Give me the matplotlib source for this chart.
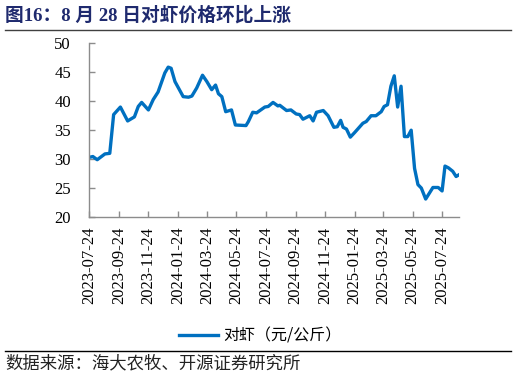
import matplotlib
matplotlib.use("Agg")
import matplotlib.pyplot as plt
import matplotlib.dates as mdates
from matplotlib.lines import Line2D
import pandas as pd

# data
dates = [
    "2023-07-24", "2023-08-01", "2023-08-10", "2023-08-26", "2023-09-05",
    "2023-09-13", "2023-09-27", "2023-10-12", "2023-10-26", "2023-11-03",
    "2023-11-10", "2023-11-24", "2023-12-04", "2023-12-14", "2023-12-28",
    "2024-01-04", "2024-01-10", "2024-01-18", "2024-02-04", "2024-02-15",
    "2024-02-22", "2024-03-03", "2024-03-15", "2024-03-24", "2024-04-03",
    "2024-04-11", "2024-04-17", "2024-04-24", "2024-05-02", "2024-05-14",
    "2024-05-22", "2024-06-13", "2024-06-18", "2024-06-27", "2024-07-05",
    "2024-07-22", "2024-07-29", "2024-08-08", "2024-08-18", "2024-08-22",
    "2024-09-05", "2024-09-14", "2024-09-25", "2024-10-02", "2024-10-09",
    "2024-10-23", "2024-10-30", "2024-11-06", "2024-11-20", "2024-11-30",
    "2024-12-12", "2024-12-19", "2024-12-26", "2024-12-31", "2025-01-07",
    "2025-01-15", "2025-01-24", "2025-02-10", "2025-02-17", "2025-02-27",
    "2025-03-09", "2025-03-20", "2025-03-26", "2025-04-02", "2025-04-09",
    "2025-04-16", "2025-04-23", "2025-04-30", "2025-05-07", "2025-05-14",
    "2025-05-21", "2025-05-28", "2025-06-04", "2025-06-11", "2025-06-20",
    "2025-07-05", "2025-07-16", "2025-07-24", "2025-07-30", "2025-08-06",
    "2025-08-15", "2025-08-22", "2025-08-28",
]
prices = [
    30.3, 30.45, 29.9, 30.9, 31.0,
    37.7, 39.0, 36.6, 37.3, 39.1,
    39.8, 38.5, 40.3, 41.6, 44.9,
    45.9, 45.7, 43.4, 40.8, 40.7,
    40.9, 42.3, 44.5, 43.4, 42.0,
    42.8, 41.3, 40.8, 38.2, 38.5,
    35.9, 35.8, 36.5, 38.1, 38.0,
    39.0, 39.1, 39.8, 39.2, 39.3,
    38.4, 38.5, 37.8, 37.7, 36.9,
    37.5, 36.6, 38.1, 38.4, 37.5,
    35.5, 35.6, 36.7, 35.5, 35.2,
    33.8, 34.6, 36.2, 36.5, 37.5,
    37.5, 38.2, 39.1, 39.4, 42.6,
    44.4, 39.0, 42.6, 33.9, 33.9,
    35.0, 28.4, 25.6, 25.0, 23.1,
    25.1, 25.1, 24.5, 28.8, 28.5,
    27.9, 27.0, 27.3,
]
tick_dates = [
    "2023-07-24", "2023-09-24", "2023-11-24", "2024-01-24", "2024-03-24",
    "2024-05-24", "2024-07-24", "2024-09-24", "2024-11-24", "2025-01-24",
    "2025-03-24", "2025-05-24", "2025-07-24",
]
y_ticks = [20, 25, 30, 35, 40, 45, 50]
series_name = "对虾（元/公斤）"
title = "图16：8 月 28 日对虾价格环比上涨"
source = "数据来源：海大农牧、开源证券研究所"

df = pd.DataFrame({"date": pd.to_datetime(dates), "price": prices})
ticks = pd.to_datetime(tick_dates)

W, H = 516, 377
fig = plt.figure(figsize=(W / 100, H / 100), dpi=100)

# plot area
ax = fig.add_axes([89 / W, 1 - 217 / H, (459 - 89) / W, (217 - 43.4) / H])
line_color = "#0070C0"
ax.plot(df["date"], df["price"], color=line_color, linewidth=2.4, solid_joinstyle="round")

ax.set_ylim(20, 50)
ax.set_yticks(y_ticks)
ax.set_xlim(df["date"].iloc[0], df["date"].iloc[-1])
ax.set_xticks(ticks)
ax.xaxis.set_major_formatter(mdates.DateFormatter("%Y-%m-%d"))

for side in ["top", "right"]:
    ax.spines[side].set_visible(False)
for side in ["left", "bottom"]:
    ax.spines[side].set_color("#8c8c8c")
    ax.spines[side].set_linewidth(1.0)

ax.tick_params(axis="both", direction="in", length=4, width=1, color="#8c8c8c")
ax.tick_params(axis="y", pad=13)
ax.tick_params(axis="x", pad=7)
for lab in ax.get_yticklabels():
    lab.set_fontfamily("Liberation Serif")
    lab.set_fontsize(12)
for lab in ax.get_xticklabels():
    lab.set_fontfamily("Liberation Serif")
    lab.set_fontsize(12)
    lab.set_rotation(90)

# title
fig.text(5 / W, 1 - 15 / H, title, ha="left", va="center", fontsize=13.5,
         fontweight="bold", color="#1F2A6E",
         family=["Liberation Serif", "Noto Sans CJK SC"])
fig.add_artist(Line2D([5 / W, 511 / W], [1 - 29.5 / H, 1 - 29.5 / H],
                      color="#404040", linewidth=1.0))

# legend
handle = Line2D([], [], color=line_color, linewidth=2.4)
fig.legend([handle], [series_name], loc="center",
           bbox_to_anchor=(260 / W, 1 - 336 / H), frameon=False,
           handlelength=2.5, handletextpad=0.3,
           prop={"family": ["Noto Sans CJK SC", "DejaVu Sans"], "size": 11.5})

# source
fig.add_artist(Line2D([5 / W, 511 / W], [1 - 351 / H, 1 - 351 / H],
                      color="black", linewidth=1.0))
fig.text(5 / W, 1 - 363 / H, source, ha="left", va="center", fontsize=12.5,
         family=["Noto Sans CJK SC", "DejaVu Sans"], color="#222222")

fig.savefig("out.png", dpi=100)
